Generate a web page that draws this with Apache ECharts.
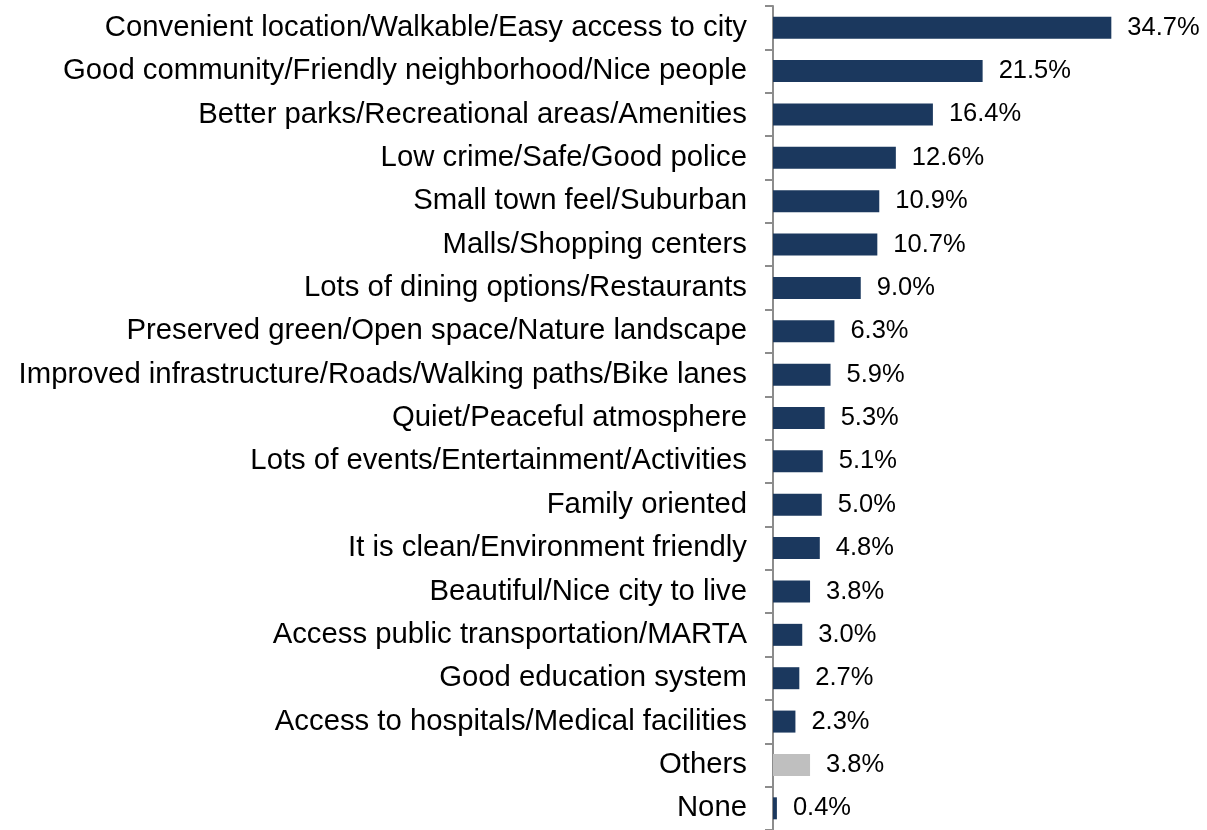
<!DOCTYPE html>
<html>
<head>
<meta charset="utf-8">
<script src="https://cdn.jsdelivr.net/npm/echarts@6/dist/echarts.min.js"></script>
<style>html,body{margin:0;padding:0;background:#fff;}#c{width:1207px;height:830px;}</style>
</head>
<body>
<div id="c"></div>
<script>
const categories = [
  "Convenient location/Walkable/Easy access to city",
  "Good community/Friendly neighborhood/Nice people",
  "Better parks/Recreational areas/Amenities",
  "Low crime/Safe/Good police",
  "Small town feel/Suburban",
  "Malls/Shopping centers",
  "Lots of dining options/Restaurants",
  "Preserved green/Open space/Nature landscape",
  "Improved infrastructure/Roads/Walking paths/Bike lanes",
  "Quiet/Peaceful atmosphere",
  "Lots of events/Entertainment/Activities",
  "Family oriented",
  "It is clean/Environment friendly",
  "Beautiful/Nice city to live",
  "Access public transportation/MARTA",
  "Good education system",
  "Access to hospitals/Medical facilities",
  "Others",
  "None"
];
const values = [34.7, 21.5, 16.4, 12.6, 10.9, 10.7, 9.0, 6.3, 5.9, 5.3, 5.1, 5.0, 4.8, 3.8, 3.0, 2.7, 2.3, 3.8, 0.4];
const highlightCategory = "Others";

const NAVY = "#1b385e";
const GRAY = "#bfbfbf";

const chart = echarts.init(document.getElementById('c'), null, {renderer: 'canvas'});
const seriesData = values.map((v, i) => ({
  value: v,
  itemStyle: {color: categories[i] === highlightCategory ? GRAY : NAVY}
}));

chart.setOption({
  animation: false,
  backgroundColor: '#ffffff',
  grid: {left: 773, top: 6, width: 390, height: 827, containLabel: false},
  xAxis: {
    type: 'value', min: 0, max: 40, show: false
  },
  yAxis: {
    type: 'category',
    inverse: true,
    data: categories,
    axisLine: {show: true, lineStyle: {color: '#8c8c8c', width: 2}},
    axisTick: {show: true, length: 8, lineStyle: {color: '#8c8c8c', width: 2}},
    axisLabel: {
      margin: 26,
      fontFamily: 'Liberation Sans, Arial, sans-serif',
      fontSize: 29.3,
      color: '#000000'
    }
  },
  series: [{
    type: 'bar',
    data: seriesData,
    barWidth: 22,
    label: {
      show: true,
      position: 'right',
      distance: 16,
      fontFamily: 'Liberation Sans, Arial, sans-serif',
      fontSize: 25.5,
      color: '#000000',
      formatter: p => p.value.toFixed(1) + '%'
    }
  }]
});
</script>
</body>
</html>
